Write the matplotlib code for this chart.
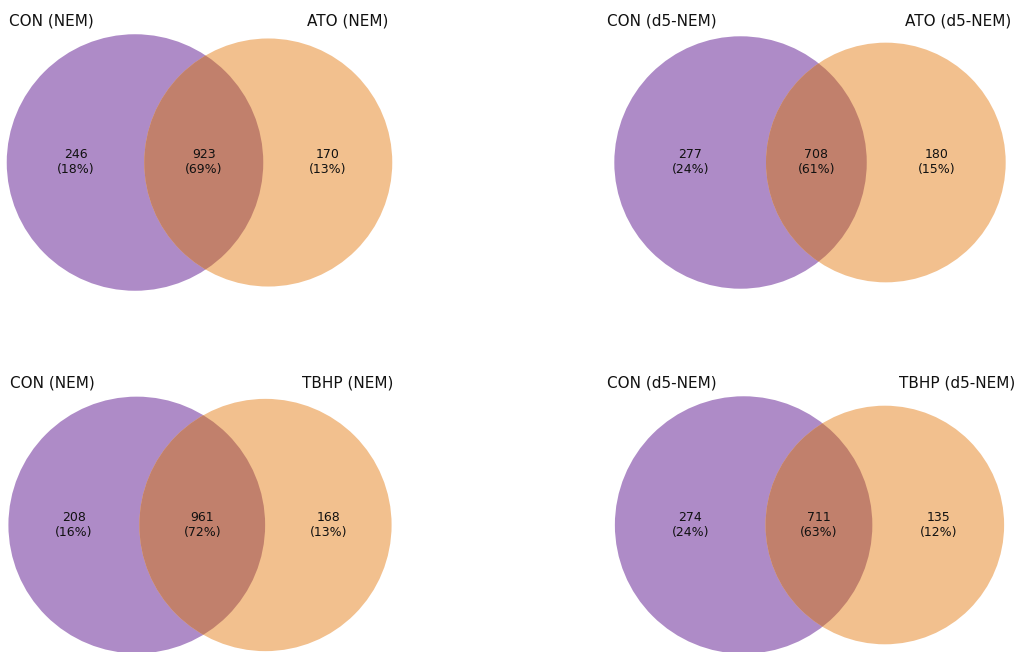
import numpy as np
import matplotlib.pyplot as plt
from matplotlib.patches import Circle

# two-set overlaps: counts only in the left set, in both, only in the right set
left_labels = ['CON (NEM)', 'CON (d5-NEM)', 'CON (NEM)', 'CON (d5-NEM)']
right_labels = ['ATO (NEM)', 'ATO (d5-NEM)', 'TBHP (NEM)', 'TBHP (d5-NEM)']
only_left = [246, 277, 208, 274]
shared = [923, 708, 961, 711]
only_right = [170, 180, 168, 135]

purple = '#ae8bc7'
orange = '#f2c08e'
both_col = '#c1806c'

W, H = 1019, 652
scale = 243.3            # pixels per unit of normalised radius
box_w, box_h = 420, 340  # axes size in pixels
centers_px = [(199.5, 162.5), (810, 162.5), (200, 525), (809.5, 525)]
lens_factor = 0.64       # lens area = factor * (shared share)^2, keeps regions readable


def lens_area(r1, r2, d):
    a1 = r1**2 * np.arccos(np.clip((d**2 + r1**2 - r2**2) / (2 * d * r1), -1, 1))
    a2 = r2**2 * np.arccos(np.clip((d**2 + r2**2 - r1**2) / (2 * d * r2), -1, 1))
    k = (-d + r1 + r2) * (d + r1 - r2) * (d - r1 + r2) * (d + r1 + r2)
    return a1 + a2 - 0.5 * np.sqrt(max(k, 0))


def solve_distance(r1, r2, area):
    lo, hi = abs(r1 - r2) + 1e-9, r1 + r2
    for _ in range(100):
        mid = (lo + hi) / 2
        if lens_area(r1, r2, mid) > area:
            lo = mid
        else:
            hi = mid
    return (lo + hi) / 2


fig = plt.figure(figsize=(W / 100, H / 100), dpi=100)

for i in range(4):
    a, ab, b = only_left[i], shared[i], only_right[i]
    total = a + ab + b
    ra = np.sqrt((a + ab) / total / np.pi)
    rb = np.sqrt((b + ab) / total / np.pi)
    d = solve_distance(ra, rb, lens_factor * (ab / total) ** 2)

    xmin, xmax = -ra, d + rb
    xc = (xmin + xmax) / 2

    cx, cy = centers_px[i]
    ax = fig.add_axes([(cx - box_w / 2) / W, (H - cy - box_h / 2) / H,
                       box_w / W, box_h / H])
    ax.set_xlim(xc - box_w / 2 / scale, xc + box_w / 2 / scale)
    ax.set_ylim(-box_h / 2 / scale, box_h / 2 / scale)
    ax.set_axis_off()

    ca = Circle((0, 0), ra, facecolor=purple, edgecolor='none')
    cb = Circle((d, 0), rb, facecolor=orange, edgecolor='none')
    ax.add_patch(ca)
    ax.add_patch(cb)
    lens = Circle((0, 0), ra, facecolor=both_col, edgecolor='none')
    ax.add_patch(lens)
    lens.set_clip_path(Circle((d, 0), rb, transform=ax.transData))

    # subset labels sit midway along the line through the centres
    xs = [(-ra + d - rb) / 2, (d - rb + ra) / 2, (ra + d + rb) / 2]
    for x, n in zip(xs, [a, ab, b]):
        ax.text(x, 0, f'{n}\n({n / total:.0%})', ha='center', va='center',
                fontsize=9, color='#111111')

    off = 148 / box_w
    ty = 0.5 + 142 / box_h
    ax.text(0.5 - off, ty, left_labels[i], transform=ax.transAxes,
            ha='center', va='center', fontsize=11, color='#111111')
    ax.text(0.5 + off, ty, right_labels[i], transform=ax.transAxes,
            ha='center', va='center', fontsize=11, color='#111111')

fig.savefig('out.png', dpi=100)
